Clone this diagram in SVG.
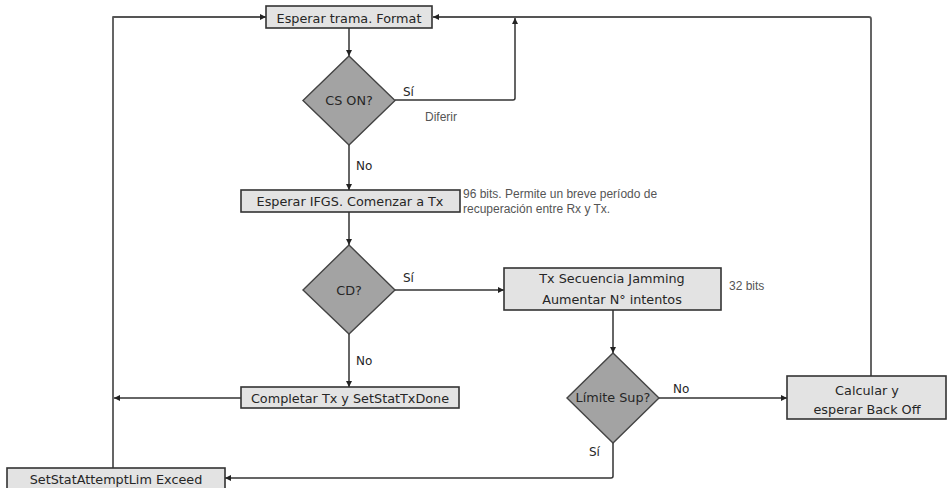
<svg xmlns="http://www.w3.org/2000/svg" width="949" height="488" viewBox="0 0 949 488">
  <style>
    .box { fill: #e3e3e3; stroke: #333; stroke-width: 1.6; }
    .dia { fill: #a3a3a3; stroke: #444; stroke-width: 1.4; }
    .t { font-family: "DejaVu Sans", Verdana, sans-serif; font-size: 12.8px; fill: #262626; text-anchor: middle; }
    .lbl { font-family: "DejaVu Sans", Verdana, sans-serif; font-size: 12px; fill: #262626; }
    .note { font-family: "Liberation Sans", Arial, sans-serif; font-size: 12px; fill: #555; }
    .c { fill: none; stroke: #333; stroke-width: 1.5; stroke-linejoin: round; }
    .cg { fill: none; stroke: #555; stroke-width: 1.8; stroke-linejoin: round; }
  </style>
  <defs>
    <marker id="ah" viewBox="0 0 10 10" refX="10" refY="5" markerWidth="6" markerHeight="6" markerUnits="userSpaceOnUse" orient="auto">
      <path d="M0,0 L10,5 L0,10 z" fill="#222"/>
    </marker>
  </defs>

  <!-- connectors -->
  <g id="connectors">
    <path class="c" d="M349,28 V56" marker-end="url(#ah)"/>
    <path class="c" d="M395,100 H513 Q515,100 515,98 V18" marker-end="url(#ah)"/>
    <path class="c" d="M349,145 V190" marker-end="url(#ah)"/>
    <path class="c" d="M349,212 V245" marker-end="url(#ah)"/>
    <path class="c" d="M395,290 H504" marker-end="url(#ah)"/>
    <path class="c" d="M349,334 V387" marker-end="url(#ah)"/>
    <path class="c" d="M241,398 H114" marker-end="url(#ah)"/>
    <path class="c" d="M613,310 V353" marker-end="url(#ah)"/>
    <path class="c" d="M659,398 H787" marker-end="url(#ah)"/>
    <path class="c" d="M613,443 V476 Q613,478 611,478 H225" marker-end="url(#ah)"/>
    <path class="cg" d="M871,376 V19 Q871,17 869,17 H433" marker-end="url(#ah)"/>
    <path class="cg" d="M113,468 V17 H266" marker-end="url(#ah)"/>
  </g>

  <!-- nodes -->
  <g id="esperar-trama">
    <rect class="box" x="266" y="6" width="166" height="22"/>
    <text class="t" x="349" y="22.5">Esperar trama. Format</text>
  </g>

  <g id="cs-on">
    <polygon class="dia" points="349,56 395,100.5 349,145 303,100.5"/>
    <text class="t" x="349" y="105">CS ON?</text>
  </g>

  <g id="esperar-ifgs">
    <rect class="box" x="241" y="190" width="219" height="22"/>
    <text class="t" x="350" y="206">Esperar IFGS. Comenzar a Tx</text>
  </g>

  <g id="cd">
    <polygon class="dia" points="349,245 395,290 349,334 303,290"/>
    <text class="t" x="349" y="295">CD?</text>
  </g>

  <g id="completar">
    <rect class="box" x="241" y="387" width="218" height="21"/>
    <text class="t" x="350" y="402.5">Completar Tx y SetStatTxDone</text>
  </g>

  <g id="jamming">
    <rect class="box" x="504" y="268" width="217" height="42"/>
    <text class="t" x="612" y="282.5">Tx Secuencia Jamming</text>
    <text class="t" x="612" y="304">Aumentar N° intentos</text>
  </g>

  <g id="limite-sup">
    <polygon class="dia" points="613,353 659,398 613,443 567,398"/>
    <text class="t" x="613" y="402">Límite Sup?</text>
  </g>

  <g id="backoff">
    <rect class="box" x="787" y="376" width="159" height="43"/>
    <text class="t" x="867" y="395">Calcular y</text>
    <text class="t" x="867" y="413.5">esperar Back Off</text>
  </g>

  <g id="attempt-lim">
    <rect class="box" x="7" y="468" width="218" height="24"/>
    <text class="t" x="116" y="484">SetStatAttemptLim Exceed</text>
  </g>

  <!-- branch labels -->
  <g id="labels">
    <text class="lbl" x="403" y="96">Sí</text>
    <text class="lbl" x="356" y="170">No</text>
    <text class="lbl" x="403" y="282">Sí</text>
    <text class="lbl" x="356" y="365">No</text>
    <text class="lbl" x="673" y="393">No</text>
    <text class="lbl" x="589" y="456">Sí</text>
  </g>

  <!-- annotations -->
  <g id="notes">
    <text class="note" x="425" y="121">Diferir</text>
    <text class="note" x="463" y="198">96 bits. Permite un breve período de</text>
    <text class="note" x="463" y="213">recuperación entre Rx y Tx.</text>
    <text class="note" x="729" y="290">32 bits</text>
  </g>
</svg>
